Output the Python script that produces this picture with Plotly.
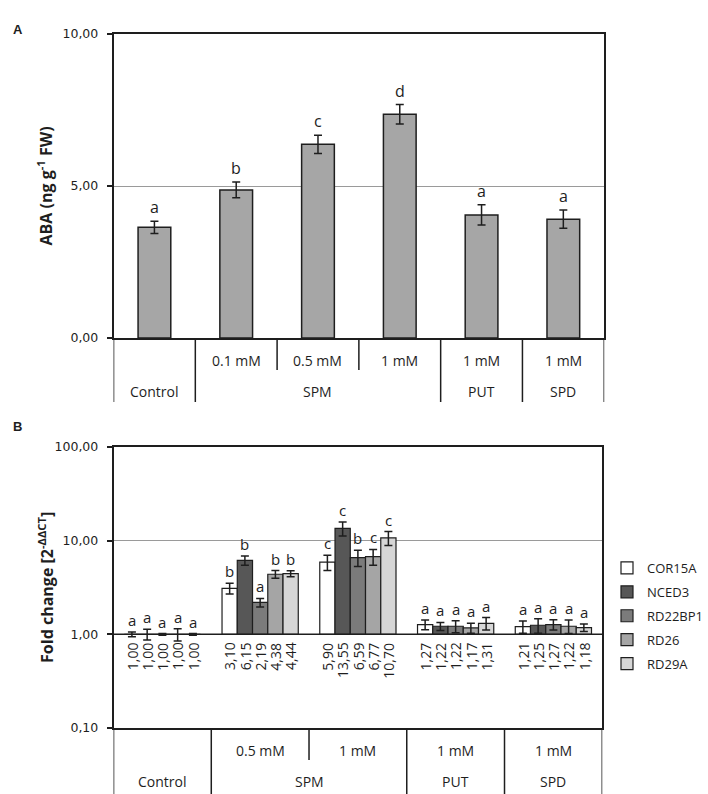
import math
import plotly.graph_objects as go

W, H = 708, 794

# ---------------- Panel A data ----------------
a_groups = ["Control", "SPM", "SPM", "SPM", "PUT", "SPD"]
a_conc = ["", "0.1 mM", "0.5 mM", "1 mM", "1 mM", "1 mM"]
a_aba = [3.64, 4.87, 6.37, 7.36, 4.05, 3.91]
a_err = [0.20, 0.26, 0.30, 0.32, 0.33, 0.30]
a_letters = ["a", "b", "c", "d", "a", "a"]
a_ticks = [0, 5, 10]

# ---------------- Panel B data ----------------
b_groups = ["Control", "SPM", "SPM", "PUT", "SPD"]
b_conc = ["", "0.5 mM", "1 mM", "1 mM", "1 mM"]
genes = ["COR15A", "NCED3", "RD22BP1", "RD26", "RD29A"]
cor15a = [1.00, 3.10, 5.90, 1.27, 1.21]
nced3 = [1.00, 6.15, 13.55, 1.22, 1.25]
rd22bp1 = [1.00, 2.19, 6.59, 1.22, 1.27]
rd26 = [1.00, 4.38, 6.77, 1.17, 1.22]
rd29a = [1.00, 4.44, 10.70, 1.31, 1.18]
cor15a_err = [0.06, 0.40, 1.10, 0.15, 0.18]
nced3_err = [0.13, 0.70, 2.30, 0.12, 0.22]
rd22bp1_err = [0.02, 0.23, 1.30, 0.18, 0.16]
rd26_err = [0.15, 0.42, 1.30, 0.14, 0.20]
rd29a_err = [0.02, 0.33, 1.80, 0.20, 0.11]
cor15a_let = ["a", "b", "c", "a", "a"]
nced3_let = ["a", "b", "c", "a", "a"]
rd22bp1_let = ["a", "a", "b", "a", "a"]
rd26_let = ["a", "b", "c", "a", "a"]
rd29a_let = ["a", "b", "c", "a", "a"]
b_ticks = [0.1, 1, 10, 100]

b_values = [cor15a, nced3, rd22bp1, rd26, rd29a]
b_errors = [cor15a_err, nced3_err, rd22bp1_err, rd26_err, rd29a_err]
b_letters = [cor15a_let, nced3_let, rd22bp1_let, rd26_let, rd29a_let]
gene_colors = ["#ffffff", "#575757", "#7b7b7b", "#a5a5a5", "#d6d6d6"]

# ---------------- styling ----------------
DARK = "#1e1e1e"
GRID = "#9a9a9a"
TXT_FONT = "Open Sans"
TICK_FONT = "DejaVu Sans"


def py(px):
    return 1 - px / H


def px_x(px):
    return px / W


# layout geometry (pixels)
A_L, A_R, A_T, A_B = 115, 612, 34, 338
B_L, B_R, B_T, B_B = 115, 610, 447, 728

fig = go.Figure()

# ---- Panel A bars
xa = list(range(len(a_aba)))
fig.add_trace(go.Bar(
    x=xa, y=a_aba, width=0.4,
    marker=dict(color="#a6a6a6", line=dict(color=DARK, width=1.5)),
    error_y=dict(type="data", array=a_err, color=DARK, thickness=1.5, width=4),
    showlegend=False, xaxis="x", yaxis="y", hoverinfo="skip",
))

# ---- Panel B bars
bargap = 0.22
bw = (1 - bargap) / len(genes)
xb = list(range(len(b_groups)))
for j, g in enumerate(genes):
    vals = b_values[j]
    fig.add_trace(go.Bar(
        x=xb, y=[v - 1 for v in vals], base=[1] * len(vals),
        name=g, legendgroup=g,
        marker=dict(color=gene_colors[j], line=dict(color=DARK, width=1.2)),
        error_y=dict(type="data", array=b_errors[j], color=DARK, thickness=1.5, width=4),
        xaxis="x2", yaxis="y2", hoverinfo="skip",
    ))

annotations = []
shapes = []

# letters on A
for i, (v, e, l) in enumerate(zip(a_aba, a_err, a_letters)):
    annotations.append(dict(x=i, y=v + e, xref="x", yref="y", text=l, showarrow=False,
                            xanchor="center", yanchor="bottom", yshift=1,
                            font=dict(family=TXT_FONT, size=16, color=DARK)))

# letters and value labels on B
for j in range(len(genes)):
    for i in range(len(b_groups)):
        xpos = i + (j - (len(genes) - 1) / 2) * bw
        v = b_values[j][i]
        e = b_errors[j][i]
        annotations.append(dict(x=xpos, y=math.log10(v + e), xref="x2", yref="y2",
                                text=b_letters[j][i], showarrow=False,
                                xanchor="center", yanchor="bottom", yshift=0,
                                font=dict(family=TXT_FONT, size=15, color=DARK)))
        annotations.append(dict(x=xpos, y=0, xref="x2", yref="y2",
                                text=f"{v:.2f}".replace(".", ","), showarrow=False,
                                xanchor="center", yanchor="top", yshift=-6, textangle=-90,
                                font=dict(family=TXT_FONT, size=14, color=DARK)))

# horizontal line at 1 (category axis of B)
shapes.append(dict(type="line", xref="x2 domain", yref="y2", x0=0, x1=1, y0=1, y1=1,
                   line=dict(color=DARK, width=1.5), layer="above"))


def table(groups, conc, xref, axis_px, full_len, part_len, row1_off, row2_off):
    n = len(groups)
    for k in range(n + 1):
        xb_ = k - 0.5
        if k == 0 or k == n or groups[k] != groups[k - 1]:
            ln = full_len
        else:
            ln = part_len
        shapes.append(dict(type="line", xref=xref, yref="paper", x0=xb_, x1=xb_,
                           y0=py(axis_px), y1=py(axis_px + ln),
                           line=dict(color=DARK, width=1.5)))
    for i, c in enumerate(conc):
        if c:
            annotations.append(dict(x=i, y=py(axis_px + row1_off), xref=xref, yref="paper",
                                    text=c, showarrow=False, xanchor="center", yanchor="middle",
                                    font=dict(family=TXT_FONT, size=14, color=DARK)))
    i = 0
    while i < n:
        j = i
        while j + 1 < n and groups[j + 1] == groups[i]:
            j += 1
        annotations.append(dict(x=(i + j) / 2, y=py(axis_px + row2_off), xref=xref, yref="paper",
                                text=groups[i], showarrow=False, xanchor="center", yanchor="middle",
                                font=dict(family=TXT_FONT, size=14, color=DARK)))
        i = j + 1


table(a_groups, a_conc, "x", A_B, 64, 32, 22, 53)
table(b_groups, b_conc, "x2", B_B, 70, 32, 22, 53)

for k in range(1, len(b_groups)):
    shapes.append(dict(type="line", xref="x2", yref="y2", x0=k - 0.5, x1=k - 0.5,
                       ysizemode="pixel", yanchor=1, y0=0, y1=-8,
                       line=dict(color=DARK, width=1.5)))

annotations.append(dict(x=px_x(18), y=py(29), xref="paper", yref="paper", text="<b>A</b>",
                        showarrow=False, xanchor="center", yanchor="middle",
                        font=dict(family="Liberation Sans", size=13, color=DARK)))
annotations.append(dict(x=px_x(18), y=py(426), xref="paper", yref="paper", text="<b>B</b>",
                        showarrow=False, xanchor="center", yanchor="middle",
                        font=dict(family="Liberation Sans", size=13, color=DARK)))

annotations.append(dict(x=px_x(46), y=py((A_T + A_B) / 2), xref="paper", yref="paper",
                        text="<b>ABA (ng g<sup>-1</sup> FW)</b>", textangle=-90, showarrow=False,
                        xanchor="center", yanchor="middle",
                        font=dict(family=TXT_FONT, size=16, color=DARK)))
annotations.append(dict(x=px_x(46), y=py((B_T + B_B) / 2), xref="paper", yref="paper",
                        text="<b>Fold change [2<sup>-ΔΔCT</sup>]</b>", textangle=-90, showarrow=False,
                        xanchor="center", yanchor="middle",
                        font=dict(family=TXT_FONT, size=16, color=DARK)))

axis_common = dict(showline=True, linecolor=DARK, linewidth=1.5, mirror=True, automargin=False)

fig.update_layout(
    template="none",
    width=W, height=H,
    margin=dict(l=0, r=0, t=0, b=0, pad=0),
    paper_bgcolor="white", plot_bgcolor="white",
    separators=",.",
    barmode="group", bargap=bargap, bargroupgap=0,
    xaxis=dict(domain=[px_x(A_L), px_x(A_R)], range=[-0.5, len(a_aba) - 0.5],
               showticklabels=False, ticks="", showgrid=False, zeroline=False,
               anchor="y", fixedrange=True, **axis_common),
    yaxis=dict(domain=[py(A_B), py(A_T)], range=[0, 10], tickvals=a_ticks, tickformat=".2f",
               ticks="outside", ticklen=5, tickcolor=DARK, tickwidth=1.5, ticklabelstandoff=6,
               showgrid=True, gridcolor=GRID, gridwidth=1, zeroline=False,
               tickfont=dict(family=TICK_FONT, size=12.5, color=DARK),
               anchor="x", fixedrange=True, **axis_common),
    xaxis2=dict(domain=[px_x(B_L), px_x(B_R)], range=[-0.5, len(b_groups) - 0.5],
                showticklabels=False, ticks="", showgrid=False, zeroline=False,
                anchor="y2", fixedrange=True, **axis_common),
    yaxis2=dict(domain=[py(B_B), py(B_T)], type="log", range=[-1, 2], tickvals=b_ticks,
                tickformat=".2f", ticks="outside", ticklen=5, tickcolor=DARK, tickwidth=1.5,
                ticklabelstandoff=6, showgrid=True, gridcolor=GRID, gridwidth=1, zeroline=False,
                tickfont=dict(family=TICK_FONT, size=12.5, color=DARK),
                anchor="x2", fixedrange=True, **axis_common),
    legend=dict(x=px_x(615), y=py(553), xanchor="left", yanchor="top",
                traceorder="grouped", tracegroupgap=4,
                font=dict(family=TXT_FONT, size=13, color=DARK),
                bgcolor="rgba(0,0,0,0)"),
    annotations=annotations,
    shapes=shapes,
)

fig.write_html("out.html", config={"displayModeBar": False},
               post_script="document.body.style.margin='0px';document.body.style.overflow='hidden';")
